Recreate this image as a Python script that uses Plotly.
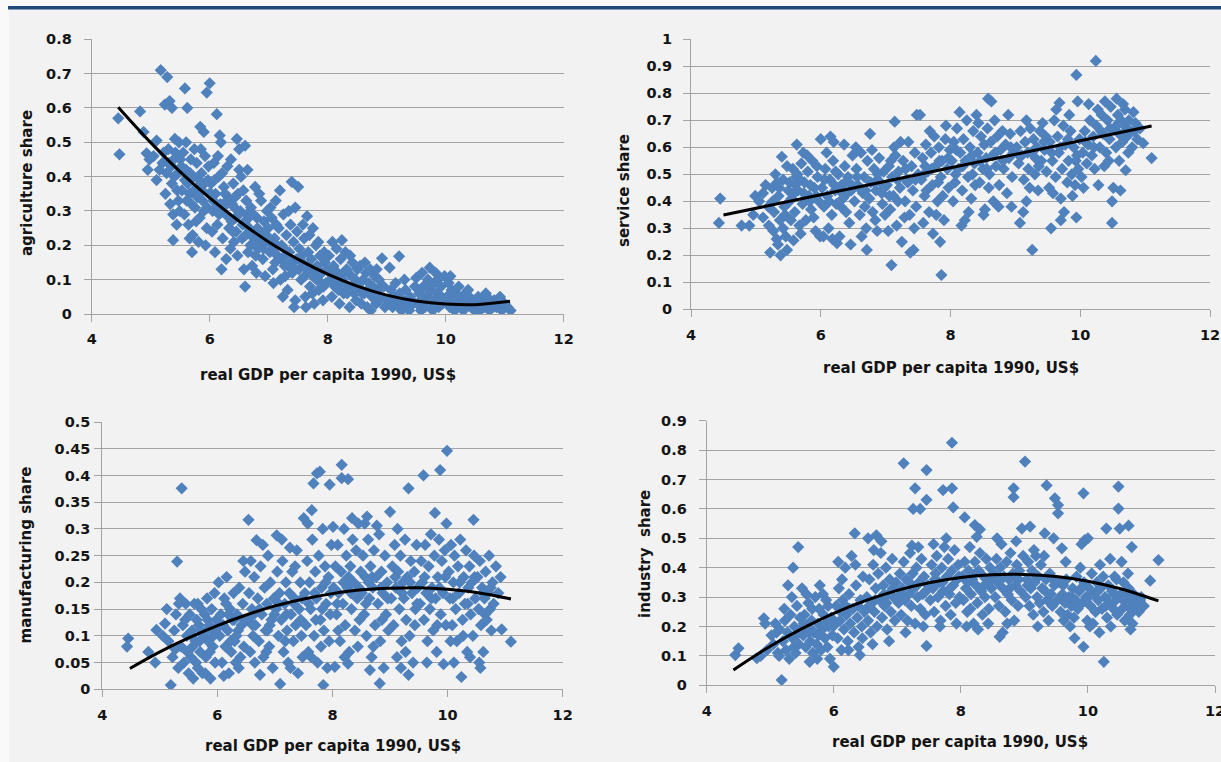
import plotly.graph_objects as go

# ---------------- data ----------------
agri_pts = [
 (4.45,0.57),(4.47,0.465),(4.82,0.59),(4.93,0.468),(4.95,0.42),(4.88,0.53),(4.98,0.45),
 (5.10,0.505),(5.10,0.39),(5.17,0.71),(5.25,0.35),(5.05,0.46),(5.20,0.44),(5.28,0.69),(5.24,0.61),(5.32,0.62),
 (5.36,0.60),(5.38,0.215),(5.30,0.48),(5.35,0.43),(5.40,0.40),(5.42,0.47),(5.45,0.36),(5.48,0.50),(5.33,0.32),
 (5.38,0.29),(5.44,0.26),(5.50,0.45),(5.47,0.33),(5.27,0.41),(5.15,0.42),(5.41,0.51),(5.49,0.30),(5.36,0.38),
 (5.58,0.657),(5.62,0.60),(5.84,0.545),(5.90,0.53),(5.95,0.645),(5.70,0.18),(5.55,0.47),(5.60,0.42),(5.63,0.38),
 (5.66,0.35),(5.68,0.45),(5.72,0.40),(5.75,0.31),(5.78,0.44),(5.80,0.37),(5.83,0.28),(5.86,0.41),(5.88,0.33),
 (5.92,0.46),(5.95,0.25),(5.97,0.39),(5.57,0.29),(5.64,0.26),(5.71,0.23),(5.74,0.48),(5.81,0.21),(5.90,0.30),
 (5.99,0.35),(5.53,0.36),(5.69,0.32),(5.77,0.27),(5.93,0.20),(5.60,0.50),(5.85,0.48),(5.98,0.43),(5.66,0.22),
 (6.00,0.672),(6.12,0.582),(6.17,0.52),(6.19,0.50),(6.20,0.13),(6.46,0.51),(6.50,0.48),(6.50,0.42),(6.02,0.38),
 (6.05,0.30),(6.07,0.44),(6.10,0.35),(6.13,0.26),(6.15,0.40),(6.18,0.32),(6.22,0.22),(6.24,0.37),(6.27,0.29),
 (6.30,0.43),(6.32,0.34),(6.35,0.19),(6.37,0.27),(6.40,0.38),(6.42,0.31),(6.45,0.24),(6.48,0.35),(6.04,0.24),
 (6.09,0.18),(6.14,0.46),(6.21,0.41),(6.28,0.16),(6.33,0.25),(6.38,0.32),(6.44,0.28),(6.47,0.17),(6.11,0.31),
 (6.26,0.35),(6.36,0.45),(6.41,0.21),(6.06,0.33),
 (6.60,0.49),(6.60,0.08),(6.52,0.30),(6.55,0.22),(6.57,0.36),(6.60,0.27),(6.62,0.33),(6.65,0.18),(6.67,0.25),
 (6.70,0.31),(6.72,0.14),(6.75,0.22),(6.77,0.37),(6.80,0.28),(6.82,0.19),(6.85,0.24),(6.87,0.33),(6.90,0.16),
 (6.92,0.27),(6.95,0.21),(6.97,0.30),(6.53,0.40),(6.58,0.13),(6.64,0.42),(6.69,0.20),(6.74,0.29),(6.79,0.12),
 (6.84,0.35),(6.89,0.23),(6.94,0.11),(6.99,0.25),(6.63,0.29),(6.78,0.17),
 (7.39,0.385),(7.50,0.37),(7.45,0.31),(7.02,0.18),(7.05,0.28),(7.07,0.13),(7.10,0.22),(7.12,0.33),(7.15,0.17),
 (7.17,0.25),(7.20,0.10),(7.22,0.20),(7.25,0.29),(7.27,0.14),(7.30,0.23),(7.32,0.07),(7.35,0.18),(7.37,0.26),
 (7.40,0.12),(7.42,0.21),(7.45,0.04),(7.47,0.16),(7.03,0.31),(7.08,0.09),(7.13,0.26),(7.19,0.36),(7.24,0.05),
 (7.29,0.17),(7.34,0.30),(7.43,0.02),(7.48,0.24),(7.11,0.15),(7.28,0.11),
 (7.65,0.285),(7.75,0.25),(7.52,0.19),(7.55,0.10),(7.57,0.15),(7.60,0.22),(7.62,0.05),(7.65,0.13),(7.67,0.18),
 (7.70,0.08),(7.72,0.16),(7.75,0.11),(7.77,0.03),(7.80,0.20),(7.82,0.14),(7.85,0.07),(7.87,0.17),(7.90,0.12),
 (7.92,0.04),(7.95,0.15),(7.97,0.09),(7.58,0.26),(7.63,0.02),(7.69,0.23),(7.74,0.06),(7.79,0.13),(7.84,0.21),
 (7.89,0.09),(7.94,0.18),(7.99,0.13),
 (8.24,0.215),(8.02,0.17),(8.05,0.10),(8.07,0.05),(8.10,0.14),(8.12,0.08),(8.15,0.19),(8.17,0.12),(8.20,0.03),
 (8.22,0.16),(8.25,0.10),(8.27,0.06),(8.30,0.18),(8.32,0.13),(8.35,0.08),(8.37,0.02),(8.40,0.11),(8.42,0.15),
 (8.45,0.06),(8.47,0.10),(8.50,0.13),(8.08,0.21),(8.18,0.07),(8.28,0.12),(8.38,0.17),(8.48,0.04),
 (8.92,0.162),(8.52,0.08),(8.55,0.14),(8.57,0.03),(8.60,0.10),(8.62,0.06),(8.65,0.12),(8.67,0.02),(8.70,0.09),
 (8.72,0.13),(8.75,0.05),(8.77,0.08),(8.80,0.11),(8.82,0.03),(8.85,0.07),(8.87,0.10),(8.90,0.05),(8.95,0.08),
 (8.97,0.02),(8.63,0.15),(8.73,0.01),(8.83,0.13),
 (9.05,0.135),(9.21,0.168),(9.02,0.04),(9.07,0.07),(9.10,0.02),(9.12,0.05),(9.15,0.09),(9.18,0.03),(9.22,0.06),
 (9.25,0.01),(9.28,0.04),(9.32,0.07),(9.35,0.02),(9.40,0.05),(9.45,0.03),(9.48,0.08),(9.30,0.10),(9.38,0.01),
 (9.50,0.105),(9.73,0.135),(9.90,0.105),(9.52,0.03),(9.55,0.06),(9.58,0.01),(9.60,0.04),(9.62,0.08),(9.65,0.02),
 (9.68,0.05),(9.70,0.10),(9.72,0.03),(9.75,0.07),(9.78,0.01),(9.80,0.09),(9.82,0.04),(9.85,0.06),(9.88,0.02),
 (9.92,0.08),(9.95,0.03),(9.98,0.11),(9.60,0.12),(9.83,0.12),(9.66,0.08),
 (10.02,0.05),(10.05,0.09),(10.07,0.02),(10.10,0.07),(10.12,0.04),(10.15,0.01),(10.18,0.06),(10.20,0.03),
 (10.22,0.08),(10.25,0.02),(10.28,0.05),(10.30,0.01),(10.33,0.06),(10.36,0.03),(10.40,0.05),(10.43,0.02),
 (10.46,0.04),(10.49,0.01),(10.08,0.11),(10.38,0.07),
 (10.52,0.03),(10.55,0.05),(10.58,0.01),(10.62,0.04),(10.65,0.02),(10.70,0.05),(10.74,0.01),(10.78,0.03),
 (10.82,0.04),(10.86,0.02),(10.90,0.03),(10.95,0.01),(11.00,0.03),(11.05,0.02),(11.10,0.01),(10.68,0.06),(10.92,0.05),
 (5.22,0.47),(5.31,0.44),(5.39,0.45),(5.46,0.41),(5.52,0.43),(5.58,0.39),(5.61,0.33),(5.67,0.41),(5.73,0.36),
 (5.79,0.34),(5.82,0.39),(5.87,0.36),(5.91,0.38),(5.96,0.31),(6.03,0.35),(6.08,0.39),(6.16,0.29),(6.23,0.31),
 (6.29,0.33),(6.34,0.28),(6.39,0.24),(6.43,0.34),(6.49,0.29),(6.56,0.26),(6.61,0.23),(6.66,0.28),(6.71,0.24),
 (6.76,0.20),(6.81,0.25),(6.86,0.21),(6.91,0.19),(6.96,0.23),(7.01,0.21),(7.06,0.19),(7.14,0.20),(7.21,0.16),
 (7.26,0.19),(7.33,0.14),(7.38,0.15),(7.44,0.13),(7.51,0.13),(7.56,0.17),(7.61,0.11),(7.68,0.14),(7.73,0.12),
 (7.81,0.10),(7.86,0.12),(7.93,0.08),(8.03,0.12),(8.13,0.10),(8.23,0.09),(8.33,0.06),(8.43,0.08),(8.58,0.06),
 (8.68,0.07),(8.78,0.05),(8.88,0.04),(9.05,0.03),(9.20,0.04),(9.42,0.04),(9.62,0.05),(9.76,0.04),(9.93,0.05),
 (10.04,0.03),(10.14,0.05),(10.27,0.04),(10.44,0.03),(10.60,0.03),(10.80,0.02),
]
agri_fit_x = [4.45, 5.0, 5.5, 6.0, 6.5, 7.0, 7.5, 8.0, 8.5, 9.0, 9.5, 10.0, 10.5, 11.09]
agri_fit_y = [0.602, 0.499, 0.414, 0.338, 0.270, 0.210, 0.159, 0.116, 0.081, 0.055, 0.038, 0.029, 0.027, 0.037]

serv_pts = [
 (4.45,0.41),(4.43,0.32),(4.78,0.31),(4.90,0.31),(4.99,0.42),(4.96,0.35),
 (5.11,0.43),(5.19,0.38),(5.11,0.34),(5.22,0.21),(5.38,0.20),(5.48,0.22),(5.27,0.29),(5.32,0.26),(5.40,0.565),
 (5.05,0.40),(5.15,0.46),(5.25,0.45),(5.28,0.36),(5.30,0.50),(5.35,0.42),(5.37,0.33),(5.42,0.48),(5.44,0.38),
 (5.46,0.27),(5.48,0.53),(5.50,0.44),(5.34,0.24),(5.42,0.30),(5.20,0.31),(5.45,0.35),(5.33,0.47),(5.26,0.40),
 (5.58,0.255),(5.63,0.61),(5.73,0.58),(5.52,0.47),(5.55,0.41),(5.57,0.52),(5.60,0.36),(5.62,0.49),(5.65,0.44),
 (5.67,0.31),(5.70,0.54),(5.72,0.39),(5.75,0.47),(5.77,0.33),(5.80,0.51),(5.82,0.42),(5.85,0.37),(5.87,0.55),
 (5.90,0.45),(5.92,0.29),(5.95,0.49),(5.97,0.40),(5.54,0.33),(5.59,0.43),(5.64,0.50),(5.69,0.28),(5.74,0.43),
 (5.79,0.57),(5.84,0.46),(5.89,0.34),(5.94,0.53),(5.99,0.27),(5.68,0.48),(5.83,0.40),
 (6.00,0.63),(6.15,0.64),(6.20,0.62),(6.36,0.61),(6.25,0.245),(6.02,0.45),(6.05,0.38),(6.07,0.52),(6.10,0.42),
 (6.12,0.30),(6.14,0.48),(6.17,0.35),(6.19,0.55),(6.22,0.44),(6.24,0.39),(6.27,0.50),(6.29,0.27),(6.32,0.46),
 (6.34,0.41),(6.37,0.53),(6.39,0.36),(6.42,0.49),(6.44,0.32),(6.47,0.44),(6.49,0.57),(6.04,0.27),(6.09,0.58),
 (6.18,0.26),(6.23,0.51),(6.31,0.38),(6.41,0.43),(6.46,0.24),(6.13,0.40),(6.38,0.47),
 (6.71,0.22),(6.76,0.65),(6.52,0.40),(6.55,0.52),(6.57,0.46),(6.60,0.35),(6.62,0.58),(6.65,0.43),(6.67,0.49),
 (6.70,0.30),(6.72,0.55),(6.75,0.41),(6.77,0.47),(6.80,0.36),(6.82,0.52),(6.85,0.44),(6.87,0.29),(6.90,0.56),
 (6.92,0.47),(6.95,0.39),(6.97,0.51),(6.54,0.60),(6.63,0.27),(6.68,0.38),(6.79,0.59),(6.84,0.33),(6.94,0.43),
 (6.99,0.35),(6.59,0.45),(6.88,0.50),
 (7.14,0.695),(7.09,0.164),(7.43,0.22),(7.38,0.21),(7.48,0.72),(7.02,0.46),(7.05,0.53),(7.07,0.37),(7.10,0.49),
 (7.12,0.42),(7.15,0.57),(7.17,0.31),(7.20,0.51),(7.22,0.45),(7.25,0.25),(7.27,0.55),(7.30,0.40),(7.32,0.48),
 (7.35,0.62),(7.37,0.35),(7.40,0.53),(7.42,0.44),(7.45,0.58),(7.47,0.38),(7.50,0.50),(7.04,0.29),(7.13,0.60),
 (7.19,0.40),(7.29,0.34),(7.34,0.47),(7.44,0.30),(7.23,0.62),(7.08,0.55),
 (7.53,0.72),(7.86,0.127),(7.84,0.25),(7.73,0.28),(7.55,0.48),(7.57,0.56),(7.60,0.42),(7.62,0.61),(7.65,0.51),
 (7.67,0.36),(7.70,0.58),(7.72,0.46),(7.75,0.64),(7.77,0.53),(7.80,0.40),(7.82,0.60),(7.85,0.49),(7.87,0.55),
 (7.90,0.33),(7.92,0.63),(7.95,0.52),(7.97,0.45),(7.99,0.59),(7.58,0.32),(7.63,0.44),(7.68,0.66),(7.78,0.35),
 (7.88,0.42),(7.93,0.68),(7.61,0.53),(7.81,0.47),
 (8.17,0.31),(8.22,0.33),(8.02,0.55),(8.05,0.62),(8.07,0.47),(8.10,0.67),(8.12,0.52),(8.15,0.58),(8.18,0.44),
 (8.20,0.63),(8.23,0.55),(8.25,0.70),(8.27,0.49),(8.30,0.60),(8.32,0.41),(8.35,0.66),(8.37,0.54),(8.40,0.72),
 (8.42,0.58),(8.45,0.47),(8.47,0.64),(8.50,0.52),(8.04,0.40),(8.14,0.73),(8.28,0.36),(8.38,0.46),(8.43,0.69),
 (8.09,0.59),(8.33,0.57),
 (8.63,0.77),(8.58,0.78),(8.89,0.72),(8.51,0.35),(8.53,0.37),(8.66,0.40),(8.52,0.61),(8.55,0.56),(8.57,0.67),
 (8.60,0.50),(8.62,0.62),(8.65,0.57),(8.68,0.70),(8.70,0.53),(8.72,0.64),(8.75,0.46),(8.77,0.59),(8.80,0.66),
 (8.82,0.52),(8.85,0.61),(8.87,0.43),(8.90,0.56),(8.92,0.65),(8.95,0.49),(8.97,0.58),(8.59,0.45),(8.74,0.38),
 (8.94,0.38),
 (9.17,0.70),(9.26,0.22),(9.07,0.32),(9.17,0.40),(9.35,0.44),(9.02,0.60),(9.05,0.54),(9.08,0.66),(9.10,0.57),
 (9.13,0.48),(9.15,0.62),(9.20,0.52),(9.23,0.67),(9.25,0.58),(9.28,0.63),(9.30,0.50),(9.33,0.60),(9.38,0.66),
 (9.40,0.55),(9.42,0.69),(9.45,0.59),(9.48,0.51),(9.12,0.36),(9.22,0.45),(9.36,0.53),(9.47,0.64),
 (9.52,0.45),(9.55,0.30),(9.70,0.33),(9.75,0.36),(9.70,0.41),(9.68,0.765),(9.94,0.868),(9.96,0.77),(9.94,0.34),
 (9.53,0.62),(9.57,0.55),(9.60,0.70),(9.62,0.49),(9.65,0.64),(9.67,0.58),(9.72,0.52),(9.74,0.68),(9.77,0.61),
 (9.80,0.47),(9.82,0.55),(9.85,0.66),(9.87,0.50),(9.90,0.60),(9.92,0.46),(9.95,0.57),(9.97,0.52),(9.99,0.63),
 (9.58,0.43),(9.83,0.72),(9.88,0.42),(9.63,0.74),
 (10.24,0.92),(10.38,0.77),(10.27,0.74),(10.28,0.46),(10.49,0.40),(10.49,0.32),(10.02,0.49),(10.04,0.58),
 (10.07,0.66),(10.10,0.54),(10.12,0.61),(10.15,0.70),(10.18,0.57),(10.20,0.64),(10.22,0.52),(10.25,0.68),
 (10.30,0.60),(10.33,0.72),(10.35,0.65),(10.40,0.58),(10.42,0.70),(10.45,0.63),(10.47,0.75),(10.05,0.45),
 (10.13,0.76),(10.37,0.53),(10.44,0.55),
 (10.56,0.78),(10.69,0.74),(10.82,0.73),(10.97,0.615),(11.10,0.56),(10.70,0.515),(10.62,0.44),(10.51,0.45),
 (10.52,0.67),(10.55,0.60),(10.58,0.72),(10.60,0.65),(10.63,0.70),(10.65,0.62),(10.68,0.68),(10.72,0.64),
 (10.75,0.70),(10.78,0.66),(10.80,0.60),(10.85,0.69),(10.88,0.63),(10.92,0.67),(10.60,0.55),(10.74,0.58),(10.66,0.76),
 (5.36,0.45),(5.52,0.40),(5.61,0.46),(5.76,0.41),(5.93,0.42),(6.06,0.48),(6.21,0.46),(6.33,0.43),(6.48,0.46),
 (6.56,0.49),(6.69,0.44),(6.83,0.47),(6.98,0.45),(7.06,0.42),(7.18,0.48),(7.31,0.52),(7.46,0.48),(7.59,0.50),
 (7.71,0.52),(7.83,0.55),(7.96,0.56),(8.08,0.50),(8.19,0.53),(8.34,0.50),(8.46,0.55),(8.56,0.52),(8.69,0.58),
 (8.81,0.55),(8.93,0.60),(9.06,0.57),(9.19,0.58),(9.31,0.56),(9.44,0.62),(9.56,0.58),(9.69,0.60),(9.81,0.63),
 (9.93,0.55),(10.08,0.62),(10.21,0.60),(10.32,0.66),(10.46,0.67),(10.59,0.69),(10.71,0.66),(10.83,0.66),
]
serv_fit_x = [4.5, 6.0, 8.0, 10.0, 11.1]
serv_fit_y = [0.349, 0.424, 0.524, 0.624, 0.679]

manu_pts = [
 (4.45,0.095),(4.43,0.08),(4.80,0.07),(4.92,0.05),(4.94,0.111),
 (5.09,0.123),(5.12,0.15),(5.19,0.008),(5.38,0.376),(5.30,0.239),(5.05,0.10),(5.15,0.09),(5.22,0.06),(5.25,0.11),
 (5.28,0.14),(5.32,0.04),(5.35,0.17),(5.37,0.08),(5.40,0.12),(5.42,0.05),(5.45,0.16),(5.47,0.10),(5.50,0.03),
 (5.33,0.16),(5.44,0.13),(5.27,0.075),(5.48,0.07),
 (5.52,0.14),(5.54,0.06),(5.56,0.11),(5.58,0.02),(5.60,0.16),(5.62,0.09),(5.64,0.13),(5.66,0.04),(5.68,0.12),
 (5.70,0.07),(5.72,0.15),(5.74,0.03),(5.76,0.10),(5.78,0.14),(5.80,0.06),(5.82,0.17),(5.84,0.09),(5.86,0.12),
 (5.88,0.02),(5.90,0.15),(5.92,0.08),(5.94,0.11),(5.96,0.05),(5.98,0.13),(5.57,0.08),(5.63,0.05),(5.71,0.11),
 (5.79,0.03),(5.87,0.07),(5.95,0.18),(5.66,0.16),(5.83,0.13),
 (6.02,0.20),(6.04,0.10),(6.06,0.14),(6.08,0.05),(6.10,0.12),(6.12,0.17),(6.14,0.08),(6.16,0.21),(6.18,0.11),
 (6.20,0.03),(6.22,0.15),(6.24,0.07),(6.26,0.13),(6.28,0.18),(6.30,0.09),(6.32,0.05),(6.34,0.14),(6.36,0.11),
 (6.38,0.19),(6.40,0.06),(6.42,0.12),(6.44,0.16),(6.46,0.08),(6.48,0.22),(6.11,0.025),(6.23,0.09),(6.29,0.13),
 (6.37,0.04),(6.45,0.24),(6.15,0.16),
 (6.54,0.317),(6.74,0.027),(6.68,0.279),(6.52,0.13),(6.55,0.18),(6.57,0.07),(6.60,0.15),(6.62,0.10),(6.64,0.21),
 (6.66,0.12),(6.70,0.17),(6.72,0.09),(6.75,0.23),(6.77,0.14),(6.80,0.06),(6.82,0.19),(6.84,0.11),(6.86,0.16),
 (6.88,0.25),(6.90,0.08),(6.92,0.20),(6.94,0.13),(6.96,0.04),(6.98,0.17),(6.58,0.24),(6.65,0.05),(6.79,0.27),
 (6.91,0.12),(6.63,0.14),(6.85,0.07),
 (7.03,0.288),(7.26,0.265),(7.09,0.01),(7.50,0.32),(7.02,0.15),(7.04,0.22),(7.06,0.10),(7.08,0.18),(7.11,0.13),
 (7.13,0.24),(7.15,0.07),(7.17,0.16),(7.19,0.20),(7.21,0.11),(7.23,0.05),(7.25,0.18),(7.28,0.14),(7.30,0.22),
 (7.32,0.09),(7.34,0.17),(7.36,0.12),(7.38,0.26),(7.40,0.03),(7.42,0.15),(7.44,0.20),(7.46,0.10),(7.48,0.06),
 (7.12,0.28),(7.27,0.04),(7.35,0.23),(7.45,0.13),(7.18,0.09),
 (7.73,0.404),(7.67,0.385),(7.64,0.335),(7.78,0.407),(7.95,0.383),(7.84,0.008),(7.52,0.18),(7.54,0.12),
 (7.56,0.24),(7.58,0.07),(7.60,0.20),(7.62,0.15),(7.65,0.28),(7.68,0.10),(7.70,0.22),(7.72,0.17),(7.74,0.05),
 (7.76,0.25),(7.79,0.13),(7.81,0.19),(7.83,0.30),(7.85,0.11),(7.87,0.23),(7.89,0.16),(7.91,0.04),(7.93,0.21),
 (7.96,0.14),(7.98,0.27),(7.57,0.31),(7.63,0.06),(7.71,0.13),(7.80,0.08),(7.88,0.20),(7.94,0.09),
 (8.16,0.42),(8.16,0.395),(8.27,0.393),(8.01,0.304),(8.04,0.042),(8.27,0.048),(8.02,0.19),(8.05,0.23),(8.07,0.14),
 (8.09,0.27),(8.11,0.18),(8.13,0.09),(8.15,0.22),(8.18,0.16),(8.20,0.30),(8.22,0.12),(8.24,0.25),(8.26,0.19),
 (8.29,0.07),(8.31,0.23),(8.33,0.15),(8.35,0.28),(8.37,0.20),(8.39,0.11),(8.41,0.26),(8.43,0.17),(8.45,0.31),
 (8.47,0.13),(8.49,0.22),(8.10,0.11),(8.21,0.06),(8.34,0.32),(8.44,0.08),(8.28,0.21),
 (8.60,0.323),(8.77,0.306),(9.00,0.332),(8.82,0.011),(8.65,0.036),(8.51,0.18),(8.53,0.25),(8.55,0.14),(8.57,0.21),
 (8.59,0.10),(8.62,0.28),(8.64,0.17),(8.66,0.23),(8.68,0.06),(8.70,0.19),(8.72,0.26),(8.74,0.12),(8.76,0.21),
 (8.79,0.16),(8.81,0.29),(8.83,0.09),(8.85,0.22),(8.87,0.18),(8.89,0.04),(8.91,0.25),(8.93,0.14),(8.95,0.20),
 (8.97,0.11),(8.56,0.31),(8.71,0.08),(8.86,0.13),(8.63,0.20),
 (9.32,0.376),(9.32,0.027),(9.02,0.17),(9.04,0.23),(9.06,0.12),(9.08,0.27),(9.10,0.19),(9.12,0.06),(9.14,0.22),
 (9.16,0.15),(9.18,0.25),(9.20,0.09),(9.22,0.20),(9.24,0.17),(9.26,0.28),(9.28,0.13),(9.30,0.21),(9.34,0.10),
 (9.36,0.24),(9.38,0.18),(9.40,0.05),(9.42,0.22),(9.44,0.15),(9.46,0.27),(9.48,0.19),(9.13,0.30),(9.27,0.07),
 (9.43,0.12),(9.19,0.04),
 (9.58,0.40),(9.87,0.41),(9.99,0.446),(9.93,0.047),(9.52,0.16),(9.54,0.24),(9.56,0.20),(9.59,0.13),(9.61,0.27),
 (9.63,0.18),(9.65,0.09),(9.67,0.23),(9.69,0.15),(9.71,0.29),(9.73,0.19),(9.75,0.11),(9.77,0.25),(9.79,0.17),
 (9.81,0.07),(9.83,0.21),(9.85,0.28),(9.88,0.14),(9.90,0.24),(9.92,0.18),(9.95,0.26),(9.97,0.12),(9.98,0.31),
 (9.64,0.05),(9.78,0.33),(9.82,0.12),
 (10.45,0.317),(10.24,0.023),(10.02,0.22),(10.04,0.17),(10.06,0.27),(10.08,0.12),(10.10,0.20),(10.12,0.25),
 (10.14,0.15),(10.16,0.09),(10.18,0.23),(10.20,0.18),(10.22,0.28),(10.26,0.13),(10.28,0.21),(10.30,0.16),
 (10.32,0.26),(10.34,0.07),(10.36,0.19),(10.38,0.23),(10.40,0.14),(10.42,0.20),(10.44,0.10),(10.46,0.25),
 (10.48,0.17),(10.11,0.05),(10.27,0.10),(10.39,0.06),(10.05,0.09),
 (11.10,0.089),(10.94,0.112),(10.52,0.21),(10.54,0.15),(10.56,0.24),(10.58,0.12),(10.60,0.19),(10.62,0.07),
 (10.64,0.17),(10.66,0.22),(10.68,0.13),(10.70,0.18),(10.72,0.25),(10.74,0.15),(10.76,0.11),(10.78,0.20),
 (10.80,0.16),(10.84,0.23),(10.88,0.18),(10.92,0.21),(10.55,0.05),(10.57,0.04),(10.65,0.14),
 (5.55,0.10),(5.69,0.09),(5.81,0.11),(5.93,0.10),(6.05,0.12),(6.19,0.14),(6.33,0.10),(6.47,0.13),(6.61,0.12),
 (6.73,0.15),(6.87,0.11),(6.99,0.14),(7.07,0.16),(7.20,0.14),(7.33,0.16),(7.47,0.17),(7.59,0.16),(7.69,0.18),
 (7.82,0.15),(7.97,0.18),(8.08,0.16),(8.19,0.20),(8.32,0.18),(8.46,0.19),(8.58,0.16),(8.69,0.21),(8.84,0.19),
 (8.96,0.17),(9.09,0.21),(9.21,0.18),(9.35,0.20),(9.47,0.16),(9.60,0.21),(9.72,0.17),(9.86,0.19),(9.96,0.21),
 (10.09,0.17),(10.21,0.20),(10.35,0.16),(10.47,0.21),(10.61,0.18),(10.75,0.19),
]
manu_fit_x = [4.48, 5.0, 5.5, 6.0, 6.5, 7.0, 7.5, 8.0, 8.5, 9.0, 9.5, 10.0, 10.5, 11.1]
manu_fit_y = [0.039, 0.070, 0.096, 0.119, 0.139, 0.156, 0.169, 0.179, 0.186, 0.189, 0.190, 0.187, 0.181, 0.169]

ind_pts = [
 (4.45,0.103),(4.50,0.126),(4.79,0.092),(4.90,0.228),(4.92,0.21),(4.95,0.12),(4.85,0.10),
 (5.18,0.018),(5.44,0.47),(5.36,0.40),(5.28,0.34),(5.34,0.30),(5.50,0.33),(5.02,0.17),(5.05,0.14),(5.08,0.21),
 (5.10,0.18),(5.12,0.11),(5.15,0.19),(5.20,0.15),(5.23,0.22),(5.25,0.12),(5.27,0.18),(5.30,0.09),(5.32,0.24),
 (5.35,0.16),(5.38,0.20),(5.40,0.11),(5.42,0.27),(5.45,0.14),(5.48,0.19),(5.22,0.26),(5.37,0.13),(5.47,0.23),(5.14,0.10),
 (5.78,0.34),(5.62,0.08),(5.52,0.17),(5.54,0.24),(5.56,0.13),(5.58,0.20),(5.60,0.28),(5.63,0.15),(5.65,0.22),
 (5.67,0.11),(5.69,0.18),(5.71,0.30),(5.73,0.14),(5.75,0.21),(5.77,0.26),(5.80,0.12),(5.82,0.19),(5.84,0.24),
 (5.86,0.16),(5.88,0.29),(5.90,0.13),(5.92,0.20),(5.94,0.09),(5.96,0.23),(5.98,0.17),(5.57,0.31),(5.66,0.26),
 (5.74,0.09),(5.83,0.31),(5.91,0.27),(5.61,0.18),
 (6.00,0.063),(6.41,0.103),(6.33,0.517),(6.02,0.21),(6.04,0.27),(6.06,0.16),(6.08,0.33),(6.10,0.22),(6.12,0.12),
 (6.14,0.29),(6.16,0.19),(6.18,0.40),(6.20,0.24),(6.22,0.15),(6.24,0.31),(6.26,0.21),(6.28,0.44),(6.30,0.26),
 (6.32,0.18),(6.35,0.34),(6.37,0.23),(6.39,0.13),(6.42,0.29),(6.44,0.20),(6.46,0.37),(6.48,0.25),(6.07,0.42),
 (6.13,0.36),(6.23,0.12),(6.34,0.41),(6.45,0.16),(6.19,0.27),
 (6.54,0.50),(6.67,0.51),(6.52,0.30),(6.54,0.22),(6.56,0.36),(6.58,0.18),(6.60,0.28),(6.62,0.41),(6.64,0.25),
 (6.66,0.33),(6.68,0.20),(6.70,0.38),(6.72,0.29),(6.74,0.45),(6.76,0.23),(6.78,0.34),(6.80,0.27),(6.82,0.40),
 (6.84,0.19),(6.86,0.31),(6.88,0.36),(6.90,0.25),(6.92,0.43),(6.94,0.30),(6.96,0.22),(6.98,0.35),(6.61,0.14),
 (6.75,0.49),(6.87,0.15),(6.63,0.46),(6.83,0.28),
 (7.10,0.755),(7.28,0.67),(7.25,0.60),(7.36,0.60),(7.46,0.732),(7.46,0.631),(7.23,0.475),(7.46,0.134),(7.02,0.28),
 (7.04,0.38),(7.06,0.24),(7.08,0.33),(7.10,0.42),(7.12,0.29),(7.14,0.36),(7.16,0.22),(7.18,0.31),(7.20,0.45),
 (7.22,0.27),(7.24,0.38),(7.26,0.33),(7.28,0.21),(7.30,0.40),(7.32,0.30),(7.34,0.35),(7.36,0.26),(7.38,0.43),
 (7.40,0.31),(7.42,0.37),(7.44,0.24),(7.48,0.34),(7.13,0.18),(7.33,0.47),(7.41,0.20),
 (7.72,0.664),(7.86,0.67),(7.88,0.605),(7.86,0.825),(7.52,0.29),(7.54,0.41),(7.56,0.33),(7.58,0.25),(7.60,0.38),
 (7.62,0.44),(7.64,0.30),(7.66,0.35),(7.68,0.22),(7.70,0.40),(7.72,0.32),(7.74,0.47),(7.76,0.27),(7.78,0.37),
 (7.80,0.43),(7.82,0.31),(7.84,0.24),(7.86,0.39),(7.88,0.34),(7.90,0.46),(7.92,0.28),(7.94,0.36),(7.96,0.41),
 (7.98,0.30),(7.57,0.48),(7.67,0.20),(7.77,0.50),(7.93,0.21),(7.61,0.35),
 (8.06,0.571),(8.22,0.545),(8.30,0.53),(8.25,0.505),(8.02,0.37),(8.04,0.29),(8.06,0.42),(8.08,0.33),(8.10,0.25),
 (8.12,0.39),(8.14,0.47),(8.16,0.31),(8.18,0.36),(8.20,0.21),(8.22,0.42),(8.24,0.34),(8.26,0.28),(8.28,0.39),
 (8.30,0.45),(8.32,0.32),(8.34,0.24),(8.36,0.37),(8.38,0.30),(8.40,0.43),(8.42,0.35),(8.44,0.26),(8.46,0.40),
 (8.48,0.33),(8.09,0.20),(8.27,0.19),(8.43,0.21),(8.15,0.26),
 (8.61,0.165),(8.66,0.18),(8.83,0.67),(8.83,0.64),(8.96,0.533),(8.52,0.38),(8.54,0.30),(8.56,0.43),(8.58,0.35),
 (8.60,0.27),(8.62,0.40),(8.64,0.48),(8.66,0.33),(8.68,0.37),(8.70,0.25),(8.72,0.42),(8.74,0.31),(8.76,0.36),
 (8.78,0.45),(8.80,0.29),(8.82,0.38),(8.84,0.22),(8.86,0.34),(8.88,0.41),(8.90,0.27),(8.92,0.39),(8.94,0.32),
 (8.98,0.44),(8.57,0.50),(8.73,0.21),(8.87,0.49),
 (9.01,0.761),(9.09,0.54),(9.35,0.68),(9.48,0.636),(9.32,0.517),(9.46,0.50),(9.02,0.30),(9.04,0.36),(9.06,0.42),
 (9.08,0.27),(9.10,0.33),(9.12,0.39),(9.14,0.24),(9.16,0.35),(9.18,0.44),(9.20,0.30),(9.22,0.37),(9.24,0.28),
 (9.26,0.41),(9.28,0.33),(9.30,0.25),(9.34,0.36),(9.36,0.29),(9.38,0.22),(9.40,0.38),(9.42,0.31),(9.44,0.27),
 (9.47,0.34),(9.15,0.46),(9.31,0.44),(9.21,0.20),
 (9.53,0.613),(9.53,0.585),(9.59,0.466),(9.93,0.653),(9.95,0.494),(9.90,0.48),(9.93,0.131),(9.52,0.29),(9.55,0.35),
 (9.57,0.25),(9.60,0.31),(9.62,0.22),(9.64,0.28),(9.66,0.36),(9.68,0.24),(9.70,0.30),(9.72,0.20),(9.74,0.27),
 (9.76,0.33),(9.78,0.23),(9.80,0.29),(9.82,0.37),(9.84,0.26),(9.86,0.32),(9.88,0.40),(9.91,0.28),(9.94,0.35),
 (9.97,0.30),(9.65,0.42),(9.79,0.16),(9.99,0.22),
 (10.00,0.50),(10.29,0.533),(10.48,0.676),(10.48,0.601),(10.50,0.533),(10.25,0.08),(10.02,0.33),(10.04,0.27),
 (10.06,0.38),(10.08,0.21),(10.10,0.31),(10.12,0.25),(10.14,0.35),(10.16,0.29),(10.18,0.18),(10.20,0.33),
 (10.22,0.26),(10.24,0.37),(10.27,0.30),(10.30,0.23),(10.32,0.34),(10.34,0.28),(10.36,0.20),(10.38,0.32),
 (10.40,0.26),(10.42,0.37),(10.44,0.29),(10.46,0.24),(10.03,0.20),(10.19,0.41),(10.35,0.43),(10.45,0.36),
 (10.64,0.543),(10.69,0.47),(11.11,0.426),(10.98,0.356),(10.52,0.31),(10.54,0.26),(10.56,0.35),(10.58,0.22),
 (10.60,0.30),(10.62,0.27),(10.64,0.33),(10.66,0.24),(10.68,0.29),(10.70,0.21),(10.72,0.31),(10.74,0.26),
 (10.76,0.28),(10.80,0.25),(10.84,0.30),(10.88,0.27),(10.53,0.42),(10.63,0.38),(10.67,0.19),
 (5.41,0.17),(5.53,0.21),(5.64,0.19),(5.76,0.17),(5.87,0.21),(5.99,0.20),(6.11,0.25),(6.25,0.26),(6.38,0.27),
 (6.51,0.26),(6.65,0.29),(6.79,0.31),(6.93,0.33),(7.05,0.31),(7.19,0.35),(7.31,0.34),(7.45,0.32),(7.59,0.36),
 (7.71,0.35),(7.83,0.33),(7.97,0.37),(8.11,0.35),(8.23,0.38),(8.37,0.34),(8.49,0.37),(8.63,0.36),(8.77,0.33),
 (8.91,0.36),(9.05,0.34),(9.19,0.37),(9.33,0.32),(9.45,0.36),(9.61,0.34),(9.75,0.30),(9.89,0.33),(10.01,0.30),
 (10.15,0.32),(10.28,0.27),(10.41,0.31),(10.55,0.29),(10.71,0.27),(10.82,0.29),
]
ind_fit_x = [4.42, 5.0, 5.5, 6.0, 6.5, 7.0, 7.5, 8.0, 8.5, 9.0, 9.5, 10.0, 10.5, 11.11]
ind_fit_y = [0.052, 0.133, 0.193, 0.245, 0.288, 0.323, 0.349, 0.367, 0.376, 0.377, 0.370, 0.354, 0.329, 0.287]

x_ticks = [4, 6, 8, 10, 12]
agri_ticks = [0, 0.1, 0.2, 0.3, 0.4, 0.5, 0.6, 0.7, 0.8]
agri_labels = ["0", "0.1", "0.2", "0.3", "0.4", "0.5", "0.6", "0.7", "0.8"]
serv_ticks = [0, 0.1, 0.2, 0.3, 0.4, 0.5, 0.6, 0.7, 0.8, 0.9, 1.0]
serv_labels = ["0", "0.1", "0.2", "0.3", "0.4", "0.5", "0.6", "0.7", "0.8", "0.9", "1"]
manu_ticks = [0, 0.05, 0.1, 0.15, 0.2, 0.25, 0.3, 0.35, 0.4, 0.45, 0.5]
manu_labels = ["0", "0.05", "0.1", "0.15", "0.2", "0.25", "0.3", "0.35", "0.4", "0.45", "0.5"]
ind_ticks = [0, 0.1, 0.2, 0.3, 0.4, 0.5, 0.6, 0.7, 0.8, 0.9]
ind_labels = ["0", "0.1", "0.2", "0.3", "0.4", "0.5", "0.6", "0.7", "0.8", "0.9"]

x_title = "real GDP per capita 1990, US$"
y_titles = ["agriculture share", "service share", "manufacturing share", "industry  share"]

# ---------------- figure ----------------
W, H = 1221, 762
BG = "#f2f2f2"
GRID = "#a3a3a3"
TXT = "#141414"
BLUE = "#4f81bd"
FONT = "DejaVu Sans"

def px_x(p):
    return p / W

def px_y(p):
    return 1 - p / H

# plot-area boxes in picture pixels: (left, right, top, bottom)
boxes = [
    (91.7, 563.7, 39.3, 314.0),
    (691.0, 1210.0, 39.3, 309.3),
    (102.3, 562.7, 422.0, 689.3),
    (706.7, 1215.0, 420.7, 685.3),
]
yranges = [[0, 0.8], [0, 1.0], [0, 0.5], [0, 0.9]]
yticks = [(agri_ticks, agri_labels), (serv_ticks, serv_labels),
          (manu_ticks, manu_labels), (ind_ticks, ind_labels)]
ystandoff = [9, 8, 1, 9]
panels = [(agri_pts, agri_fit_x, agri_fit_y), (serv_pts, serv_fit_x, serv_fit_y),
          (manu_pts, manu_fit_x, manu_fit_y), (ind_pts, ind_fit_x, ind_fit_y)]

fig = go.Figure()
for i, (pts, fx, fy) in enumerate(panels):
    n = "" if i == 0 else str(i + 1)
    fig.add_trace(go.Scatter(
        x=[p[0] for p in pts], y=[p[1] for p in pts], mode="markers",
        marker=dict(symbol="diamond", size=9.4, color=BLUE, line=dict(width=0)),
        xaxis="x" + n, yaxis="y" + n, showlegend=False, hoverinfo="skip"))
    fig.add_trace(go.Scatter(
        x=fx, y=fy, mode="lines", line=dict(color="black", width=3, shape="spline"),
        xaxis="x" + n, yaxis="y" + n, showlegend=False, hoverinfo="skip"))

tickfont = dict(family=FONT, size=14.5, color=TXT, weight="bold")
titlefont = dict(family=FONT, size=15, color=TXT, weight="bold")
layout = dict(
    template="none",
    width=W, height=H, margin=dict(l=0, r=0, t=0, b=0, pad=0, autoexpand=False),
    paper_bgcolor=BG, plot_bgcolor=BG, showlegend=False,
)
for i, (l, r, t, b) in enumerate(boxes):
    n = "" if i == 0 else str(i + 1)
    tv, tt = yticks[i]
    layout["xaxis" + n] = dict(
        domain=[px_x(l), px_x(r)], range=[4, 12], tickvals=x_ticks, automargin=False,
        showgrid=False, zeroline=False, showline=True, linecolor=GRID, linewidth=1,
        ticks="outside", ticklen=7, tickcolor=GRID, tickwidth=1, tickfont=tickfont,
        ticklabelstandoff=5, ticklabeloverflow="allow", anchor="y" + n, fixedrange=True)
    layout["yaxis" + n] = dict(
        domain=[px_y(b), px_y(t)], range=yranges[i], tickvals=tv, ticktext=tt,
        automargin=False, showgrid=True, gridcolor=GRID, gridwidth=1, zeroline=False,
        showline=True, linecolor=GRID, linewidth=1,
        ticks="outside", ticklen=7, tickcolor=GRID, tickwidth=1, tickfont=tickfont,
        ticklabelstandoff=ystandoff[i], anchor="x" + n, fixedrange=True)

fig.update_layout(**layout)

# axis titles as annotations (picture-pixel centres)
xt_pos = [(327.7, 375.0), (950.5, 368.0), (332.5, 746.0), (960.0, 741.5)]
yt_pos = [(27.0, 183.0), (623.3, 190.7), (25.5, 555.0), (645.0, 554.0)]
annos = []
for i in range(4):
    cx, cy = xt_pos[i]
    annos.append(dict(text=x_title, x=px_x(cx), y=px_y(cy), xref="paper", yref="paper",
                      xanchor="center", yanchor="middle", showarrow=False, font=titlefont))
    cx, cy = yt_pos[i]
    annos.append(dict(text=y_titles[i], x=px_x(cx), y=px_y(cy), xref="paper", yref="paper",
                      xanchor="center", yanchor="middle", showarrow=False, textangle=-90,
                      font=titlefont))
fig.update_layout(annotations=annos)

# light frame strips and the dark blue rule along the top edge
fig.update_layout(shapes=[
    dict(type="rect", xref="paper", yref="paper", x0=0, x1=1, y0=px_y(6), y1=1,
         fillcolor="#f9f9f9", line=dict(width=0), layer="below"),
    dict(type="rect", xref="paper", yref="paper", x0=0, x1=px_x(9), y0=0, y1=1,
         fillcolor="#f9f9f9", line=dict(width=0), layer="below"),
    dict(type="rect", xref="paper", yref="paper", x0=px_x(8), x1=1, y0=px_y(9.5), y1=px_y(6),
         fillcolor="#1f497d", line=dict(width=0), layer="above"),
])

fig.write_html("out.html", config={"displayModeBar": False},
               post_script="document.body.style.margin='0';document.body.style.overflow='hidden';")
